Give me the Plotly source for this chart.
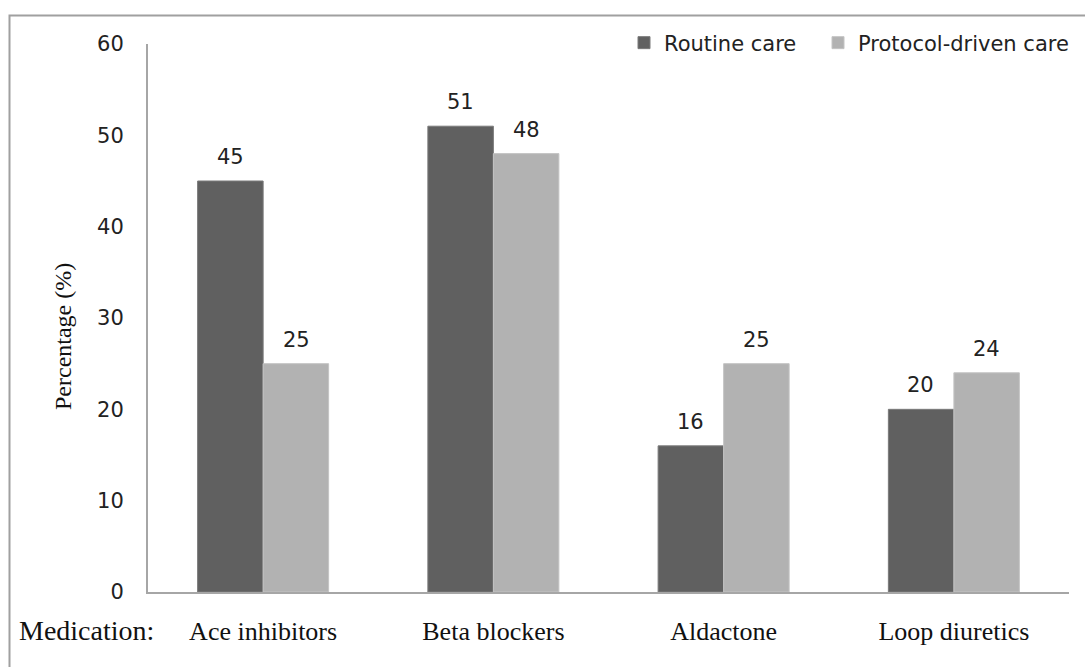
import plotly.graph_objects as go

categories = ["Ace inhibitors", "Beta blockers", "Aldactone", "Loop diuretics"]
routine_care = [45, 51, 16, 20]
protocol_care = [25, 48, 25, 24]
y_ticks = [0, 10, 20, 30, 40, 50, 60]

DARK = "#606060"
LIGHT = "#b2b2b2"
AXIS = "#a6a6a6"
SANS = "DejaVu Sans"
SERIF = "Liberation Serif"

W, H = 1085, 667
ML, MR, MT, MB = 148, 16, 44, 75
PW, PH = W - ML - MR, H - MT - MB


def px_x(p):
    return (p - ML) / PW


def px_y(p):
    return (H - MB - p) / PH


fig = go.Figure()
fig.add_trace(go.Bar(name="Routine care", x=categories, y=routine_care,
                     legend="legend",
                     marker=dict(color=DARK, line=dict(color="#7a7a7a", width=1))))
fig.add_trace(go.Bar(name="Protocol-driven care", x=categories, y=protocol_care,
                     legend="legend2",
                     marker=dict(color=LIGHT, line=dict(color="#c4c4c4", width=1))))

# value labels above each bar
annotations = []
for vals, shift in ((routine_care, -33), (protocol_care, 33)):
    for c, v in zip(categories, vals):
        annotations.append(dict(x=c, y=v, xref="x", yref="y", text=str(v),
                                showarrow=False, xshift=shift, yshift=24,
                                yanchor="middle",
                                font=dict(family=SANS, size=21, color="#222")))

annotations.append(dict(x=px_x(63), y=px_y(337), xref="paper", yref="paper",
                        text="Percentage (%)", textangle=-90, showarrow=False,
                        xanchor="center", yanchor="middle",
                        font=dict(family=SERIF, size=24, color="#111")))
annotations.append(dict(x=px_x(17), y=px_y(630), xref="paper", yref="paper",
                        text="Medication:", showarrow=False, xanchor="left",
                        yanchor="middle",
                        font=dict(family=SERIF, size=28, color="#111")))

legend_style = dict(orientation="h", xanchor="left", yanchor="middle",
                    y=px_y(43), itemwidth=30, bgcolor="rgba(0,0,0,0)",
                    font=dict(family=SANS, size=21, color="#222"))

fig.update_layout(
    width=W, height=H,
    margin=dict(l=ML, r=MR, t=MT, b=MB, pad=0, autoexpand=False),
    paper_bgcolor="white", plot_bgcolor="white",
    barmode="group", bargap=0.431, bargroupgap=0,
    showlegend=True,
    legend=dict(x=px_x(624), **legend_style),
    legend2=dict(x=px_x(818), **legend_style),
    annotations=annotations,
    shapes=[dict(type="rect", xref="paper", yref="paper",
                 x0=px_x(9.5), x1=px_x(1095), y0=px_y(680), y1=px_y(15.5),
                 line=dict(color="#a0a0a0", width=2), fillcolor="rgba(0,0,0,0)",
                 layer="below")],
)

fig.update_xaxes(showline=True, linecolor=AXIS, linewidth=2, showgrid=False,
                 ticks="", ticklabelstandoff=15,
                 tickfont=dict(family=SERIF, size=26, color="#111"))
fig.update_yaxes(range=[0, 60], tickvals=y_ticks, showline=True, linecolor=AXIS,
                 linewidth=2, showgrid=False, zeroline=False, ticks="",
                 ticklabelstandoff=18,
                 tickfont=dict(family=SANS, size=21, color="#222"))

fig.write_html("out.html")
